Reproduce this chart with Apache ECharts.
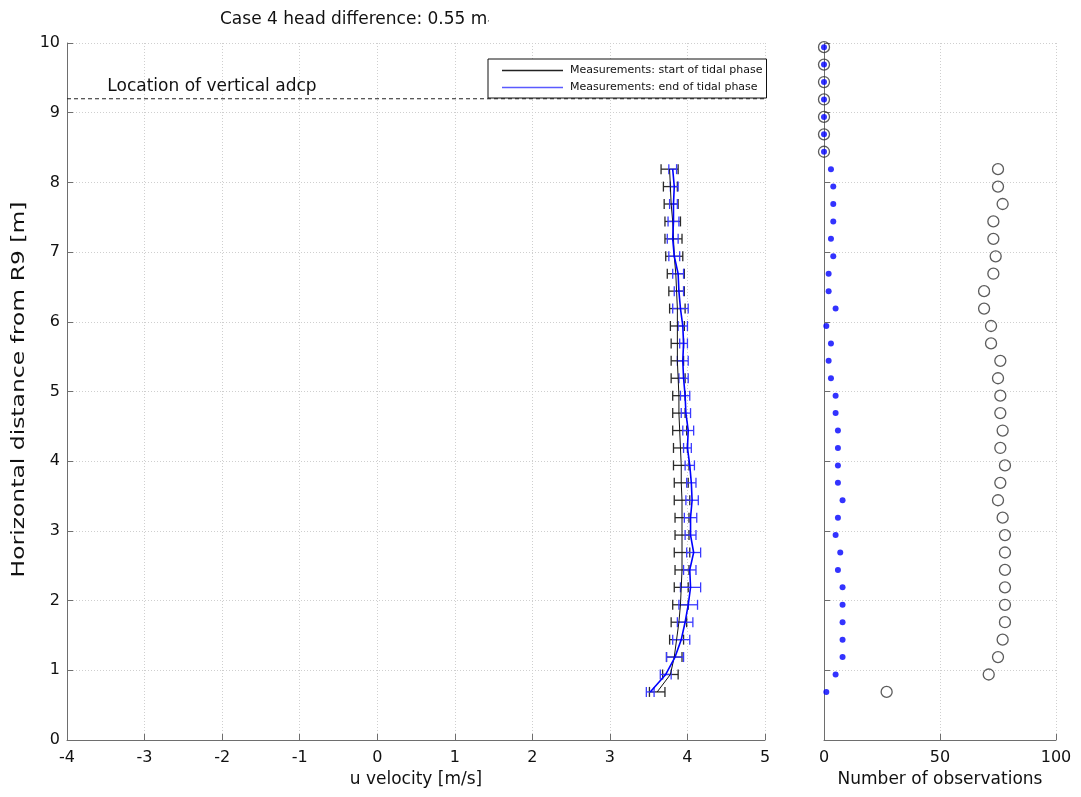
<!DOCTYPE html>
<html>
<head>
<meta charset="utf-8">
<script src="https://cdn.jsdelivr.net/npm/echarts@6/dist/echarts.min.js"></script>
<style>
  html, body { margin: 0; padding: 0; background: #fff; }
  #chart { width: 1081px; height: 797px; }
</style>
</head>
<body>
<div id="chart"></div>
<script>
// Profile bins: horizontal distance from R9 [m]
const heights = [0.69, 0.94, 1.19, 1.44, 1.69, 1.94, 2.19, 2.44, 2.69, 2.94,
                 3.19, 3.44, 3.69, 3.94, 4.19, 4.44, 4.69, 4.94, 5.19, 5.44,
                 5.69, 5.94, 6.19, 6.44, 6.69, 6.94, 7.19, 7.44, 7.69, 7.94, 8.19];

// u velocity [m/s], start of tidal phase: mean and half-width of the error bar
const startMean = [3.61, 3.78, 3.83, 3.86, 3.89, 3.91, 3.92, 3.93, 3.93, 3.93,
                   3.93, 3.93, 3.92, 3.92, 3.91, 3.90, 3.89, 3.89, 3.88, 3.87,
                   3.87, 3.87, 3.87, 3.86, 3.85, 3.83, 3.82, 3.81, 3.79, 3.78, 3.77];
const startErr  = [0.10, 0.10, 0.10, 0.09, 0.10, 0.10, 0.09, 0.09, 0.10, 0.09,
                   0.09, 0.10, 0.09, 0.10, 0.09, 0.09, 0.08, 0.08, 0.09, 0.08,
                   0.08, 0.09, 0.10, 0.10, 0.11, 0.11, 0.11, 0.10, 0.09, 0.09, 0.11];

// u velocity [m/s], end of tidal phase
const endMean = [3.52, 3.72, 3.84, 3.92, 3.97, 4.01, 4.04, 4.03, 4.08, 4.04,
                 4.04, 4.06, 4.05, 4.03, 4.00, 4.01, 3.98, 3.97, 3.95, 3.94,
                 3.95, 3.94, 3.91, 3.89, 3.88, 3.83, 3.81, 3.82, 3.82, 3.83, 3.81];
const endErr  = [0.05, 0.07, 0.11, 0.11, 0.10, 0.12, 0.13, 0.08, 0.09, 0.07,
                 0.08, 0.08, 0.06, 0.06, 0.05, 0.07, 0.06, 0.06, 0.06, 0.07,
                 0.05, 0.06, 0.10, 0.06, 0.07, 0.07, 0.07, 0.07, 0.05, 0.05, 0.05];

// Bins used for the observation counts (profile bins plus the empty ones above)
const countHeights = heights.concat([8.44, 8.69, 8.94, 9.19, 9.44, 9.69, 9.94]);
const obsStart = [27, 71, 75, 77, 78, 78, 78, 78, 78, 78,
                  77, 75, 76, 78, 76, 77, 76, 76, 75, 76,
                  72, 72, 69, 69, 73, 74, 73, 73, 77, 75, 75,
                  0, 0, 0, 0, 0, 0, 0];
const obsEnd   = [1, 5, 8, 8, 8, 8, 8, 6, 7, 5,
                  6, 8, 6, 6, 6, 6, 5, 5, 3, 2,
                  3, 1, 5, 2, 2, 4, 3, 4, 4, 4, 3,
                  0, 0, 0, 0, 0, 0, 0];

const adcpDistance = 9.2;
const velocityTicks = [-4, 5];
const countTicks = [0, 100];

const NAME_START = 'Measurements: start of tidal phase';
const NAME_END = 'Measurements: end of tidal phase';
const Y_NAME = 'Horizontal distance from R9 [m]';
const FONT = '"DejaVu Sans", "Liberation Sans", Arial, sans-serif';

const chart = echarts.init(document.getElementById('chart'));

// Horizontal error bar with end caps: value = [low, high, distance]
function errorBar(color) {
  return function (params, api) {
    const y = api.value(2);
    const lo = api.coord([api.value(0), y]);
    const hi = api.coord([api.value(1), y]);
    const cap = 5;
    const style = { stroke: color, lineWidth: 1.3 };
    return {
      type: 'group',
      children: [
        { type: 'line', shape: { x1: lo[0], y1: lo[1], x2: hi[0], y2: hi[1] }, style: style },
        { type: 'line', shape: { x1: lo[0], y1: lo[1] - cap, x2: lo[0], y2: lo[1] + cap }, style: style },
        { type: 'line', shape: { x1: hi[0], y1: hi[1] - cap, x2: hi[0], y2: hi[1] + cap }, style: style }
      ]
    };
  };
}

const axisLine = { show: true, onZero: false, lineStyle: { color: '#6e6e6e', width: 1 } };
const axisTick = { show: true, inside: true, length: 6, lineStyle: { color: '#6e6e6e' } };
const splitLine = { show: true, lineStyle: { color: '#cfcfcf', type: [1, 2], width: 1 } };
const axisLabel = { color: '#111', fontSize: 16, fontFamily: FONT };
const nameStyle = { color: '#111', fontSize: 17, fontFamily: FONT };

const option = {
  animation: false,
  backgroundColor: '#fff',
  textStyle: { fontFamily: FONT },
  title: {
    text: 'Case 4 head difference: 0.55 m{s|,}',
    left: 215,
    top: 6,
    textStyle: {
      fontSize: 17, fontWeight: 'normal', color: '#111', fontFamily: FONT,
      rich: { s: { fontSize: 7, color: '#111', fontFamily: FONT } }
    }
  },
  legend: {
    data: [
      { name: NAME_START, icon: 'rect', itemStyle: { color: '#222' } },
      { name: NAME_END, icon: 'rect', itemStyle: { color: '#5a5aff' } }
    ],
    orient: 'vertical',
    left: 488,
    top: 59,
    padding: [6, 4, 5, 14],
    itemGap: 6,
    itemWidth: 61,
    itemHeight: 1.5,
    borderColor: '#111',
    borderWidth: 1,
    backgroundColor: '#fff',
    textStyle: { fontSize: 11, color: '#111', fontFamily: FONT, padding: [0, 0, 0, 2] }
  },
  grid: [
    { left: 67, top: 43, width: 698, height: 697 },
    { left: 824, top: 43, width: 232, height: 697 }
  ],
  xAxis: [
    {
      gridIndex: 0, type: 'value', min: velocityTicks[0], max: velocityTicks[1], interval: 1,
      name: 'u velocity [m/s]', nameLocation: 'middle', nameGap: 31, nameTextStyle: nameStyle,
      axisLine: axisLine, axisTick: axisTick, splitLine: splitLine,
      axisLabel: Object.assign({ margin: 10 }, axisLabel)
    },
    {
      gridIndex: 1, type: 'value', min: countTicks[0], max: countTicks[1], interval: 50,
      name: 'Number of observations', nameLocation: 'middle', nameGap: 31, nameTextStyle: nameStyle,
      axisLine: axisLine, axisTick: axisTick, splitLine: splitLine,
      axisLabel: Object.assign({ margin: 10 }, axisLabel)
    }
  ],
  yAxis: [
    {
      gridIndex: 0, type: 'value', min: 0, max: 10, interval: 1,
      axisLine: axisLine, axisTick: axisTick, splitLine: splitLine,
      axisLabel: Object.assign({ margin: 7 }, axisLabel)
    },
    {
      gridIndex: 1, type: 'value', min: 0, max: 10, interval: 1,
      axisLine: axisLine, axisTick: axisTick, splitLine: splitLine,
      axisLabel: { show: false }
    }
  ],
  series: [
    {
      name: 'adcp', type: 'line', xAxisIndex: 0, yAxisIndex: 0, silent: true,
      symbol: 'none',
      data: [[velocityTicks[0], adcpDistance], [velocityTicks[1], adcpDistance]],
      lineStyle: { color: '#222', width: 1, type: [4, 3] },
      z: 1
    },
    {
      name: 'start bars', type: 'custom', xAxisIndex: 0, yAxisIndex: 0,
      renderItem: errorBar('#2a2a2a'),
      encode: { x: [0, 1], y: 2 },
      data: heights.map((h, i) => [startMean[i] - startErr[i], startMean[i] + startErr[i], h]),
      z: 2
    },
    {
      name: 'end bars', type: 'custom', xAxisIndex: 0, yAxisIndex: 0,
      renderItem: errorBar('#3a3aff'),
      encode: { x: [0, 1], y: 2 },
      data: heights.map((h, i) => [endMean[i] - endErr[i], endMean[i] + endErr[i], h]),
      z: 3
    },
    {
      name: NAME_START, type: 'line', xAxisIndex: 0, yAxisIndex: 0,
      symbol: 'none',
      data: heights.map((h, i) => [startMean[i], h]),
      lineStyle: { color: '#111', width: 1 },
      itemStyle: { color: '#222' },
      z: 4
    },
    {
      name: NAME_END, type: 'line', xAxisIndex: 0, yAxisIndex: 0,
      symbol: 'none',
      data: heights.map((h, i) => [endMean[i], h]),
      lineStyle: { color: '#0000ff', width: 1.6 },
      itemStyle: { color: '#5a5aff' },
      z: 5
    },
    {
      name: 'obs end', type: 'scatter', xAxisIndex: 1, yAxisIndex: 1, clip: false,
      symbol: 'circle', symbolSize: 6,
      data: countHeights.map((h, i) => [obsEnd[i], h]),
      itemStyle: { color: '#0000ff' },
      z: 4
    },
    {
      name: 'obs start', type: 'scatter', xAxisIndex: 1, yAxisIndex: 1, clip: false,
      symbol: 'circle', symbolSize: 11,
      data: countHeights.map((h, i) => [obsStart[i], h]),
      itemStyle: { color: 'rgba(0,0,0,0)', borderColor: '#333', borderWidth: 1.3 },
      z: 5
    }
  ]
};

chart.setOption(option);

// Caption of the dashed line and the vertical axis title, placed through the axis scale
const labelAt = chart.convertToPixel({ gridIndex: 0 }, [-3.48, adcpDistance]);
const yMid = chart.convertToPixel({ gridIndex: 0 }, [velocityTicks[0], 5]);
chart.setOption({
  graphic: [
    {
      type: 'text',
      x: labelAt[0],
      y: labelAt[1] - 4,
      style: {
        text: 'Location of vertical adcp',
        fontSize: 17, fontFamily: FONT, fill: '#111',
        textAlign: 'left', textVerticalAlign: 'bottom'
      },
      z: 10
    },
    {
      type: 'text',
      x: yMid[0] - 47,
      y: yMid[1] - 2,
      rotation: Math.PI / 2,
      scaleX: 1.38,
      style: {
        text: Y_NAME,
        fontSize: 17, fontFamily: FONT, fill: '#111',
        textAlign: 'center', textVerticalAlign: 'middle'
      },
      z: 10
    }
  ]
});
</script>
</body>
</html>
